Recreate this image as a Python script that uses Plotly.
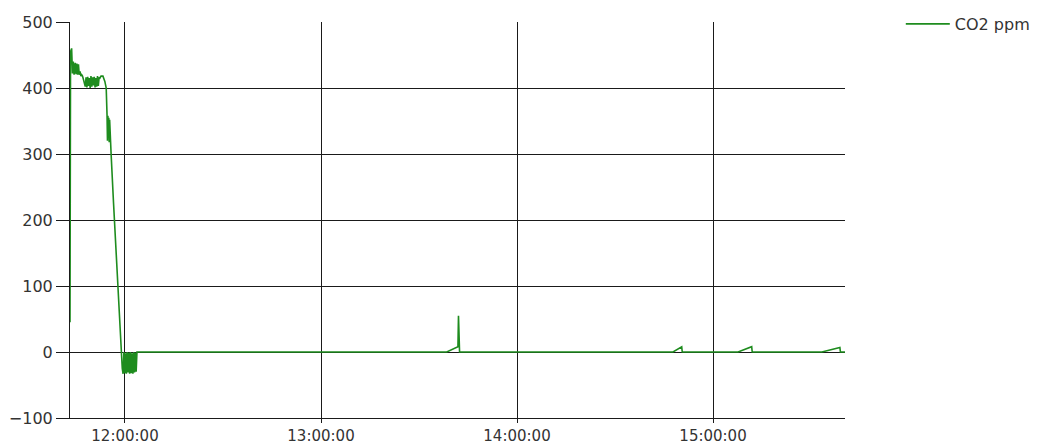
import plotly.graph_objects as go

DAY = "2013-01-01 "

# CO2 ppm readings (time of day, value)
times = [
    "11:43:10", "11:43:20", "11:43:40", "11:43:55", "11:44:10", "11:44:25", "11:44:45", "11:45:00",
    "11:45:15", "11:45:30", "11:45:45", "11:46:00", "11:46:15", "11:46:30", "11:46:45", "11:47:00",
    "11:47:20", "11:47:35",
    "11:47:50", "11:48:05", "11:48:20", "11:48:35", "11:48:50", "11:49:05", "11:49:20", "11:49:35",
    "11:49:50", "11:50:05", "11:50:20", "11:50:35", "11:50:50", "11:51:05", "11:51:20", "11:51:35",
    "11:51:50", "11:52:05", "11:52:20", "11:52:40", "11:53:15", "11:53:50", "11:54:15", "11:54:30",
    "11:54:38", "11:54:46", "11:54:54", "11:55:02", "11:55:10", "11:55:18", "11:55:26", "11:55:34",
    "11:55:45", "11:56:30", "11:57:15", "11:58:00", "11:58:45", "11:59:10",
    "11:59:25", "11:59:40", "11:59:55", "12:00:10", "12:00:25", "12:00:40", "12:00:55", "12:01:10",
    "12:01:25", "12:01:40", "12:01:55", "12:02:10", "12:02:25", "12:02:40", "12:02:55", "12:03:10",
    "12:03:25", "12:03:40", "12:30:00", "13:00:00", "13:38:30", "13:41:55", "13:42:05", "13:42:25",
    "14:00:00", "14:47:45", "14:50:25", "14:50:35", "15:00:00", "15:07:40", "15:11:50", "15:12:00",
    "15:33:20", "15:38:50", "15:39:00", "15:40:24",
]
co2_ppm = [
    45, 455, 460, 422, 440, 420, 438, 421,
    437, 420, 436, 420, 425, 418, 420, 418,
    412, 408,
    402, 416, 401, 417, 403, 415, 400, 418,
    402, 416, 404, 417, 401, 415, 402, 418,
    403, 416, 415, 418, 418, 410, 400, 360,
    320, 358, 325, 355, 318, 352, 330, 345,
    300, 225, 150, 75, 0, -25,
    -33, 0, -32, -2, -33, 0, -31, -1,
    -33, 0, -32, -2, -33, 0, -31, -1,
    -30, 0, 0, 0, 0, 8, 55, 0,
    0, 0, 8, 0, 0, 0, 8, 0,
    0, 7, 0, 0,
]

x_tick_vals = ["12:00:00", "13:00:00", "14:00:00", "15:00:00"]
x_range = ["11:43:10", "15:40:24"]
y_range = [-100, 500]

FONT = "DejaVu Sans"
TXT = "#333333"
GRID = "#1a1a1a"

fig = go.Figure()
fig.add_trace(go.Scatter(
    x=[DAY + t for t in times],
    y=co2_ppm,
    mode="lines",
    name="CO2 ppm",
    line=dict(color="#1e8c1e", width=1.6),
))

# page body has an 8px default margin; compensate so the plot area sits where the reference has it
fig.update_layout(
    template="none",
    width=1046,
    height=437,
    margin=dict(l=62, r=209, t=14, b=27, autoexpand=False),
    paper_bgcolor="white",
    plot_bgcolor="white",
    font=dict(family=FONT, size=16, color=TXT),
    showlegend=True,
    legend=dict(
        x=1.072, y=0.995, xanchor="left", yanchor="middle",
        itemwidth=44,
        font=dict(family=FONT, size=16, color=TXT),
        bgcolor="rgba(0,0,0,0)",
    ),
    xaxis=dict(
        type="date",
        range=[DAY + x_range[0], DAY + x_range[1]],
        tickvals=[DAY + t for t in x_tick_vals],
        ticktext=x_tick_vals,
        showgrid=True, gridcolor=GRID, gridwidth=1,
        showline=True, linecolor=GRID, linewidth=1,
        ticks="outside", ticklen=4, tickcolor=GRID, tickwidth=1,
        zeroline=False, automargin=False,
        tickfont=dict(family=FONT, size=15, color=TXT),
    ),
    yaxis=dict(
        range=y_range,
        tick0=-100, dtick=100,
        showgrid=True, gridcolor=GRID, gridwidth=1,
        showline=True, linecolor=GRID, linewidth=1,
        ticks="outside", ticklen=13, tickcolor=GRID, tickwidth=1,
        zeroline=False, automargin=False,
        tickfont=dict(family=FONT, size=16, color=TXT),
    ),
)

fig.write_html("out.html")
